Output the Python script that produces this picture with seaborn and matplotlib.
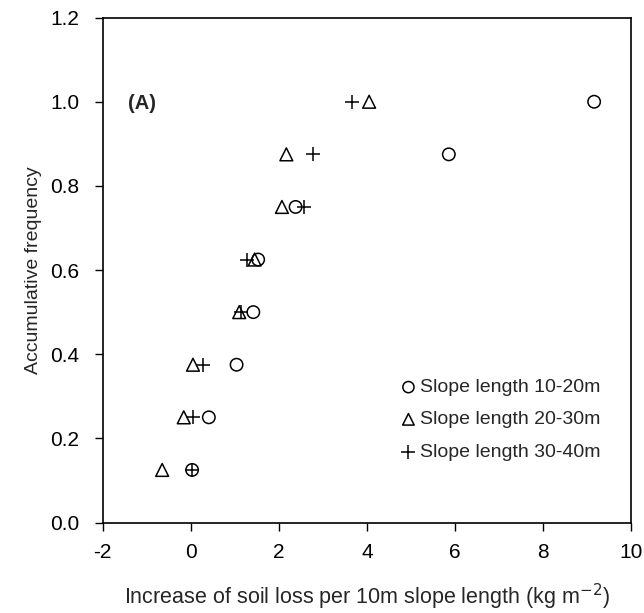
import numpy as np
import pandas as pd
import matplotlib
matplotlib.use("Agg")
import matplotlib.pyplot as plt
import seaborn as sns

# -------------------- data --------------------
freq = [0.125, 0.25, 0.375, 0.5, 0.625, 0.75, 0.875, 1.0]
loss_10_20 = [0.03, 0.41, 1.04, 1.42, 1.53, 2.38, 5.86, 9.16]
loss_20_30 = [-0.65, -0.16, 0.05, 1.10, 1.45, 2.07, 2.17, 4.05]
loss_30_40 = [0.03, 0.04, 0.28, 1.15, 1.27, 2.56, 2.78, 3.65]

labels = ["Slope length 10-20m", "Slope length 20-30m", "Slope length 30-40m"]

sns.set_style("ticks")
plt.rcParams["font.family"] = ["Liberation Sans", "DejaVu Sans"]
plt.rcParams["axes.unicode_minus"] = False


def main():
    fig = plt.figure(figsize=(6.44, 6.13), dpi=100)
    ax = fig.add_axes([0.1595, 0.1476, 0.8205, 0.8237])

    df1 = pd.DataFrame({"x": loss_10_20, "y": freq})
    df2 = pd.DataFrame({"x": loss_20_30, "y": freq})
    df3 = pd.DataFrame({"x": loss_30_40, "y": freq})

    sns.scatterplot(data=df1, x="x", y="y", marker="o", s=80,
                    facecolors="none", edgecolor="black", linewidth=1.1,
                    label=labels[0], ax=ax)
    sns.scatterplot(data=df2, x="x", y="y", marker="^", s=85,
                    facecolors="none", edgecolor="black", linewidth=1.1,
                    label=labels[1], ax=ax)
    sns.scatterplot(data=df3, x="x", y="y", marker="+", s=110,
                    color="black", linewidth=1.1,
                    label=labels[2], ax=ax)

    ax.set_xlim(-2, 10)
    ax.set_ylim(0, 1.2)
    ax.set_xticks(np.arange(-2, 11, 2))
    ax.set_yticks(np.arange(0, 1.21, 0.2))
    ax.set_yticklabels([f"{v:.1f}" for v in np.arange(0, 1.21, 0.2)])
    ax.tick_params(axis="both", labelsize=15, direction="out", length=6,
                   width=1, colors="black")
    ax.tick_params(axis="y", pad=11)
    ax.tick_params(axis="x", pad=9)
    for sp in ax.spines.values():
        sp.set_visible(True)
        sp.set_color("black")
        sp.set_linewidth(1.2)

    ax.set_xlabel(r"Increase of soil loss per 10m slope length (kg m$^{-2}$)",
                  fontsize=15.5, labelpad=14)
    ax.set_ylabel("Accumulative frequency", fontsize=14, labelpad=6)

    ax.text(0.048, 0.83, "(A)", transform=ax.transAxes, fontsize=14.5,
            fontweight="bold", va="center", ha="left")

    ax.legend(loc="upper left", bbox_to_anchor=(0.562, 0.285), frameon=False,
              fontsize=14, handletextpad=0.15, handlelength=0.9,
              labelspacing=0.75, borderaxespad=0, borderpad=0,
              markerscale=0.9)

    fig.savefig("out.png", dpi=100, facecolor="white")
    plt.close(fig)


if __name__ == "__main__":
    main()
